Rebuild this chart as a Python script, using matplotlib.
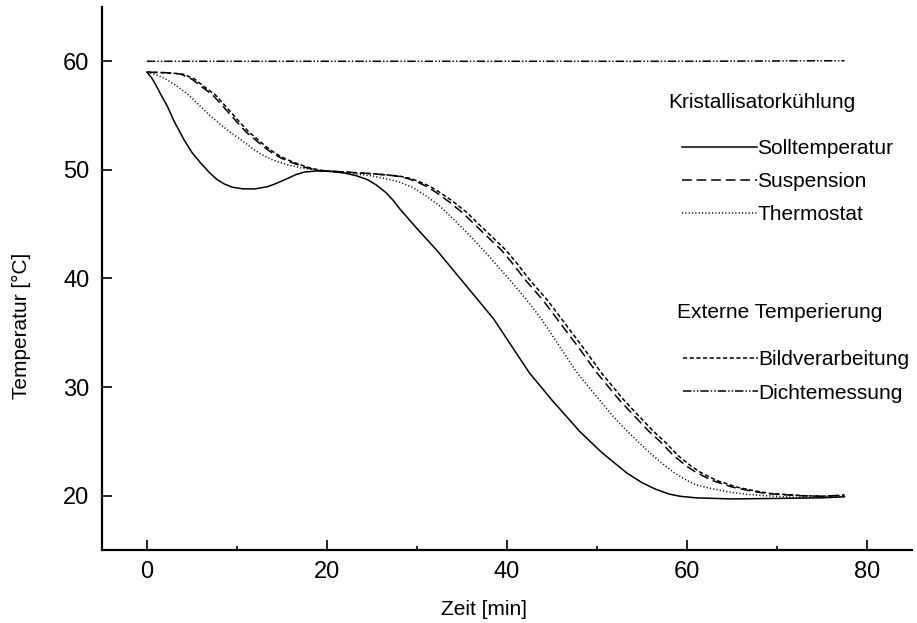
import matplotlib
matplotlib.use("Agg")
import matplotlib.pyplot as plt
from matplotlib.ticker import MultipleLocator

plt.rcParams['font.family'] = ['Liberation Sans', 'DejaVu Sans']
plt.rcParams['lines.scale_dashes'] = False

# ---- data ----
t_soll = [0, 0.5, 1, 1.5, 2.3, 3, 4.1, 5, 6, 7, 7.8, 8.6, 9.5, 10.7, 12, 13.4, 14.5, 15.6,
          16.5, 17.5, 18.9, 20.5, 22, 23.3, 24.5, 25.5, 26.5, 27.3, 28.1, 30, 32.2, 35, 37,
          38.5, 40.5, 42.5, 45, 48.1, 50.5, 53.3, 55, 56.5, 58, 59.2, 61, 65, 70, 75, 77.5]
y_soll = [59.0, 58.5, 57.8, 57.0, 55.8, 54.5, 52.8, 51.6, 50.6, 49.7, 49.1, 48.7, 48.4,
          48.25, 48.25, 48.45, 48.8, 49.2, 49.55, 49.8, 49.9, 49.85, 49.7, 49.45, 49.1,
          48.6, 47.95, 47.25, 46.4, 44.6, 42.6, 39.8, 37.8, 36.3, 33.8, 31.3, 28.8, 25.9,
          24.0, 22.1, 21.2, 20.6, 20.15, 19.95, 19.8, 19.7, 19.75, 19.8, 19.9]

t_susp = [0, 2, 3, 3.8, 5, 6, 7.3, 8.5, 10, 11, 12, 13, 14, 15, 16, 17.5, 19, 22, 25, 27,
          28, 29, 30, 31, 32, 33.5, 35, 37, 39.4, 40.7, 42, 44, 46, 48, 50, 52.5, 54.2, 55.8,
          57, 58.5, 60, 61, 62.8, 65, 67, 68.8, 72.5, 75, 77.5]
y_susp = [59.0, 58.95, 58.9, 58.8, 58.35, 57.7, 56.9, 55.8, 54.4, 53.5, 52.8, 52.1, 51.5,
          51.05, 50.7, 50.25, 49.95, 49.8, 49.65, 49.5, 49.4, 49.2, 48.9, 48.5, 48.0, 47.1,
          46.1, 44.5, 42.6, 41.3, 39.9, 38.0, 35.8, 33.6, 31.3, 28.8, 27.3, 25.9, 25.0,
          23.7, 22.7, 22.15, 21.4, 20.8, 20.45, 20.2, 20.0, 19.95, 20.05]

t_thermo = [0, 1, 2, 3, 4.5, 6, 7, 8, 9.2, 10.4, 12, 13, 14, 15.5, 17, 19, 22, 25, 27, 28,
            29.5, 31, 32.5, 34, 35.7, 37.4, 39, 40.5, 42.2, 43.8, 45.8, 47.8, 50.3, 51.8,
            53.4, 55.8, 57.2, 58.6, 60, 61, 63, 65, 67, 68.8, 72, 75, 77.5]
y_thermo = [59.0, 58.75, 58.4, 57.9, 57.0, 55.8, 55.0, 54.3, 53.5, 52.8, 51.8, 51.3, 50.9,
            50.5, 50.2, 49.95, 49.75, 49.45, 49.1, 48.9, 48.4, 47.6, 46.7, 45.5, 44.1, 42.6,
            41.1, 39.7, 38.0, 36.3, 33.8, 31.3, 28.8, 27.3, 25.9, 24.0, 23.0, 22.1, 21.4,
            21.0, 20.6, 20.3, 20.1, 20.0, 19.85, 19.85, 19.95]

t_bild = [0, 2, 3, 4.1, 5.3, 6.3, 7.6, 8.8, 10.3, 11.3, 12.3, 13.3, 14.3, 15.3, 16.3, 17.8,
          19.3, 22, 25, 27.2, 28.2, 29.3, 30.3, 31.4, 32.4, 34, 35.5, 37.5, 39.9, 41.2, 42.5,
          44.5, 46.5, 48.5, 50.5, 53, 54.7, 56.3, 57.5, 59, 60.5, 61.5, 63.3, 65.5, 67.5,
          69.3, 73, 75, 77.5]
y_bild = [59.0, 58.95, 58.9, 58.8, 58.35, 57.7, 56.9, 55.8, 54.4, 53.5, 52.8, 52.1, 51.5,
          51.05, 50.7, 50.25, 49.95, 49.8, 49.65, 49.5, 49.4, 49.2, 48.9, 48.5, 48.0, 47.1,
          46.1, 44.5, 42.6, 41.3, 39.9, 38.0, 35.8, 33.6, 31.3, 28.8, 27.3, 25.9, 25.0,
          23.7, 22.7, 22.15, 21.4, 20.8, 20.45, 20.2, 20.0, 19.95, 20.05]

t_dichte = [0, 20, 40, 60, 77.5]
y_dichte = [60.0, 60.0, 60.0, 60.0, 60.05]

x_ticks = [0, 20, 40, 60, 80]
y_ticks = [20, 30, 40, 50, 60]

# ---- figure ----
fig = plt.figure(figsize=(9.17, 6.23), dpi=100)
ax = fig.add_axes([0.1112, 0.1172, 0.8833, 0.8716])

lw = 1.1
l_soll, = ax.plot(t_soll, y_soll, color='black', lw=lw, linestyle='-', label='Solltemperatur')
l_susp, = ax.plot(t_susp, y_susp, color='black', lw=lw, linestyle=(0, (7, 3.5)), label='Suspension')
l_thermo, = ax.plot(t_thermo, y_thermo, color='black', lw=lw, linestyle=(0, (0.8, 1.6)), label='Thermostat')
l_bild, = ax.plot(t_bild, y_bild, color='black', lw=lw, linestyle=(0, (3, 1.8)), label='Bildverarbeitung')
l_dichte, = ax.plot(t_dichte, y_dichte, color='black', lw=lw,
                    linestyle=(0, (6, 1.5, 1, 1.5, 1, 1.5)), label='Dichtemessung')

ax.set_xlim(-5, 85)
ax.set_ylim(15, 65)
ax.set_xticks(x_ticks)
ax.set_yticks(y_ticks)
ax.xaxis.set_minor_locator(MultipleLocator(10))

for s in ['top', 'right']:
    ax.spines[s].set_visible(False)
for s in ['left', 'bottom']:
    ax.spines[s].set_linewidth(1.6)

ax.tick_params(axis='both', which='major', direction='in', length=7, width=1.2,
               labelsize=17, pad=8)
ax.tick_params(axis='y', which='major', pad=9)
ax.tick_params(axis='x', which='minor', direction='in', length=3, width=1.2)

ax.set_xlabel('Zeit [min]', fontsize=15)
ax.set_ylabel('Temperatur [°C]', fontsize=15)
ax.xaxis.label.set_va('center')
ax.yaxis.label.set_va('center')
ax.xaxis.set_label_coords(0.472, -0.1105)
ax.yaxis.set_label_coords(-0.0988, 0.4125)

leg_kw = dict(loc='upper left', frameon=False, fontsize=15, handlelength=3.6,
              handletextpad=0.0, borderpad=0, borderaxespad=0,
              bbox_transform=fig.transFigure)
leg1 = ax.legend(handles=[l_soll, l_susp, l_thermo], bbox_to_anchor=(682/917, 1-139/623),
                 labelspacing=0.67, **leg_kw)
ax.add_artist(leg1)
leg2 = ax.legend(handles=[l_bild, l_dichte], bbox_to_anchor=(683/917, 1-350/623),
                 labelspacing=0.7, **leg_kw)

fig.text(668/917, 1-103/623, 'Kristallisatorkühlung', fontsize=15, ha='left', va='center')
fig.text(677/917, 1-313/623, 'Externe Temperierung', fontsize=15, ha='left', va='center')

fig.savefig('out.png', dpi=100)
